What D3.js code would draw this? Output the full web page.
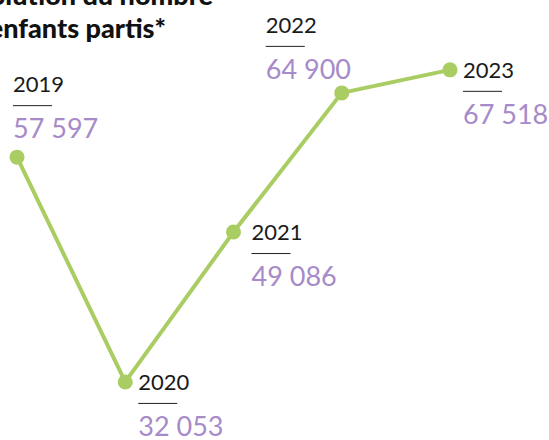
<!DOCTYPE html>
<meta charset="utf-8">
<style>
body { margin: 0; background: #fff; }
svg { font-family: Lato, "Open Sans", sans-serif; }
.title { font-size: 27px; font-weight: 900; fill: #111; }
.year { font-size: 22px; font-weight: 400; fill: #1a1a1a; }
.value { font-size: 27px; fill: #a78bc9; }
.rule { stroke: #222; stroke-width: 1; }
</style>
<body>
<script src="https://d3js.org/d3.v7.min.js"></script>
<script>

// data
var years = [2019, 2020, 2021, 2022, 2023];
var values = [57597, 32053, 49086, 64900, 67518];
var valueLabels = ["57 597", "32 053", "49 086", "64 900", "67 518"];
var titleLines = ["Évolution du nombre", "d’enfants partis*"];

// label offsets from each point (layout only)
var labelDx = [-4, 13, 18, -76, 13],
    labelDy = [-65, 8, 8, -60, 8];

var width = 549, height = 440;

var svg = d3.select("body").append("svg")
    .attr("width", width)
    .attr("height", height);

var x = d3.scaleLinear().domain([2019, 2023]).range([17, 450]);
var y = d3.scaleLinear().domain([30000, 70000]).range([400, 48]);

// title, cut off on the left like the source
svg.selectAll(".title")
    .data(titleLines)
  .enter().append("text")
    .attr("class", "title")
    .attr("text-anchor", "end")
    .attr("x", function(d, i) { return i == 0 ? 213 : 166; })
    .attr("y", function(d, i) { return 5 + i * 33; })
    .text(function(d) { return d; });

var line = d3.line()
    .x(function(d, i) { return x(years[i]); })
    .y(function(d) { return y(d); });

svg.append("path")
    .attr("d", line(values))
    .attr("fill", "none")
    .attr("stroke", "#a9cd62")
    .attr("stroke-width", 4)
    .attr("stroke-linejoin", "round");

svg.selectAll(".dot")
    .data(values)
  .enter().append("circle")
    .attr("class", "dot")
    .attr("cx", function(d, i) { return x(years[i]); })
    .attr("cy", function(d) { return y(d); })
    .attr("r", 7.5)
    .attr("fill", "#a9cd62");

var labels = svg.selectAll(".lab")
    .data(values)
  .enter().append("g")
    .attr("class", "lab")
    .attr("transform", function(d, i) {
        return "translate(" + (x(years[i]) + labelDx[i]) + "," + (y(d) + labelDy[i]) + ")";
    });

labels.append("text")
    .attr("class", "year")
    .text(function(d, i) { return years[i]; });

labels.append("line")
    .attr("class", "rule")
    .attr("x1", 0).attr("x2", 39)
    .attr("y1", 13.5).attr("y2", 13.5);

labels.append("text")
    .attr("class", "value")
    .attr("y", 46)
    .text(function(d, i) { return valueLabels[i]; });

</script>
</body>
